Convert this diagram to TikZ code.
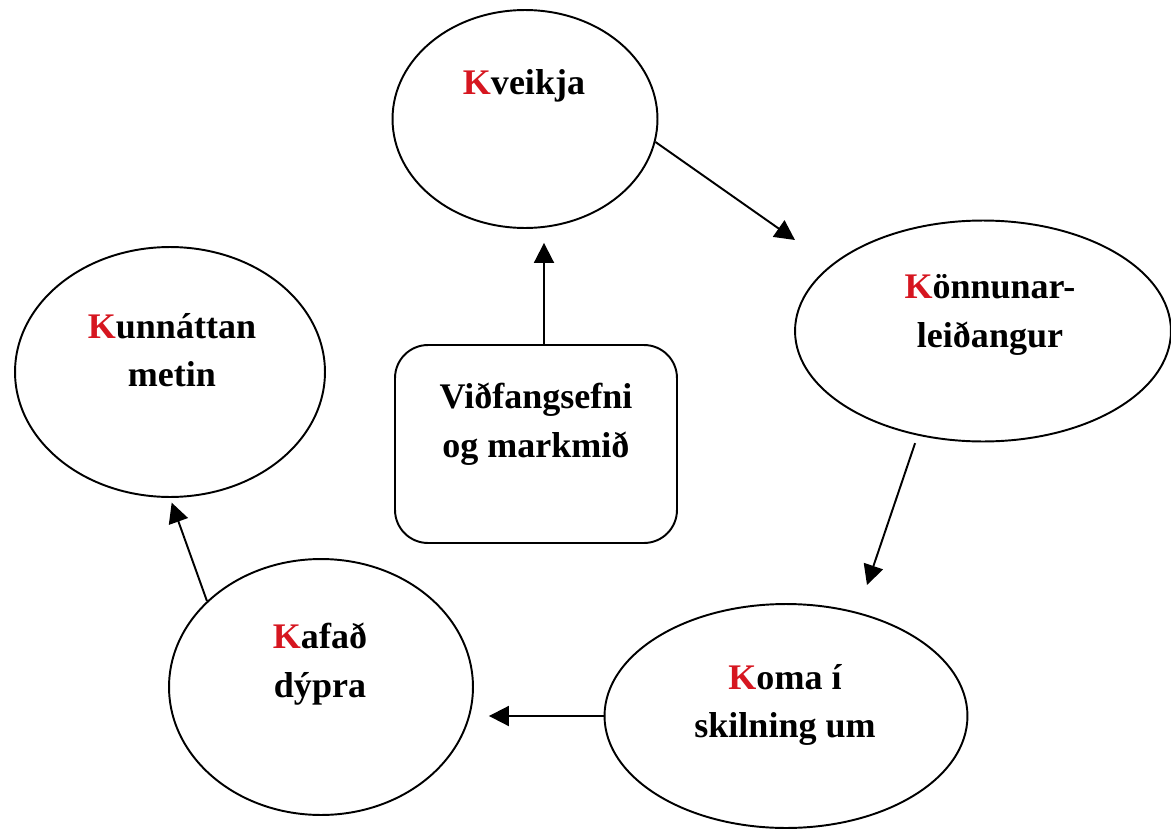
\documentclass[tikz,border=0pt]{standalone}
\usepackage{fontspec}
\setmainfont{Liberation Serif}
\usepackage{tikz}
\usetikzlibrary{positioning,shapes.geometric,arrows.meta}

\definecolor{kred}{RGB}{214,22,32}
\newcommand{\redK}{\textcolor{kred}{K}}

\begin{document}
\begin{tikzpicture}[x=0.02cm, y=-0.02cm,
    bubble/.style={draw, ellipse, line width=1.1pt, inner sep=0pt},
    lbl/.style={align=center, font=\fontsize{20.5}{27.5}\selectfont\bfseries},
    arr/.style={-{Triangle[length=0.4cm,width=0.4cm]}, line width=1.1pt}
]
\useasboundingbox (0,0) rectangle (1171,832);

    % Kveikja
    \node[bubble,
        minimum width=5.3cm,
        minimum height=4.36cm
    ] (kveikja) at (525,119) {};
    \node[lbl] (kveikja-t) at (524,86) {\redK veikja};

    % Konnunarleidangur
    \node[bubble,
        minimum width=7.52cm,
        minimum height=4.42cm
    ] (konnun) at (983,331) {};
    \node[lbl] (konnun-t) at (990,315) {\redK önnunar-\\leiðangur};

    % Koma i skilning
    \node[bubble,
        minimum width=7.26cm,
        minimum height=4.48cm
    ] (koma) at (786,716) {};
    \node[lbl] (koma-t) at (785,705) {\redK oma í\\skilning um};

    % Kafad dypra
    \node[bubble,
        minimum width=6.08cm,
        minimum height=5.12cm
    ] (kafad) at (321,687) {};
    \node[lbl] (kafad-t) at (320,664) {\redK afað\\dýpra};

    % Kunnattan metin
    \node[bubble,
        minimum width=6.2cm,
        minimum height=5cm
    ] (kunnatt) at (170,372) {};
    \node[lbl] (kunnatt-t) at (172,350) {\redK unnáttan\\metin};

    % Vidfangsefni
    \node[draw,
        line width=1.1pt,
        rounded corners=0.66cm,
        minimum width=5.64cm,
        minimum height=3.96cm
    ] (box) at (536,444) {};
    \node[lbl] (box-t) at (536,424) {Viðfangsefni\\og markmið};

    % Arrows
    \coordinate (up-start) at ([xshift=0.16cm]box.north);
    \coordinate (konnun-in) at (795,240);
    \coordinate (koma-in) at (867,585);

    \draw[arr, shorten >=0.28cm] (up-start) -- (up-start |- kveikja.south);

    \draw[arr] (kveikja.-10) -- (konnun-in);

    \draw[arr, shorten <=0.16cm] (konnun.-122) -- (koma-in);

    \draw[arr, shorten >=0.3cm] (koma.west) -- (koma.west -| kafad.east);

    \draw[arr, shorten >=0.1cm] (kafad.143) -- (kunnatt.south);

\end{tikzpicture}
\end{document}
